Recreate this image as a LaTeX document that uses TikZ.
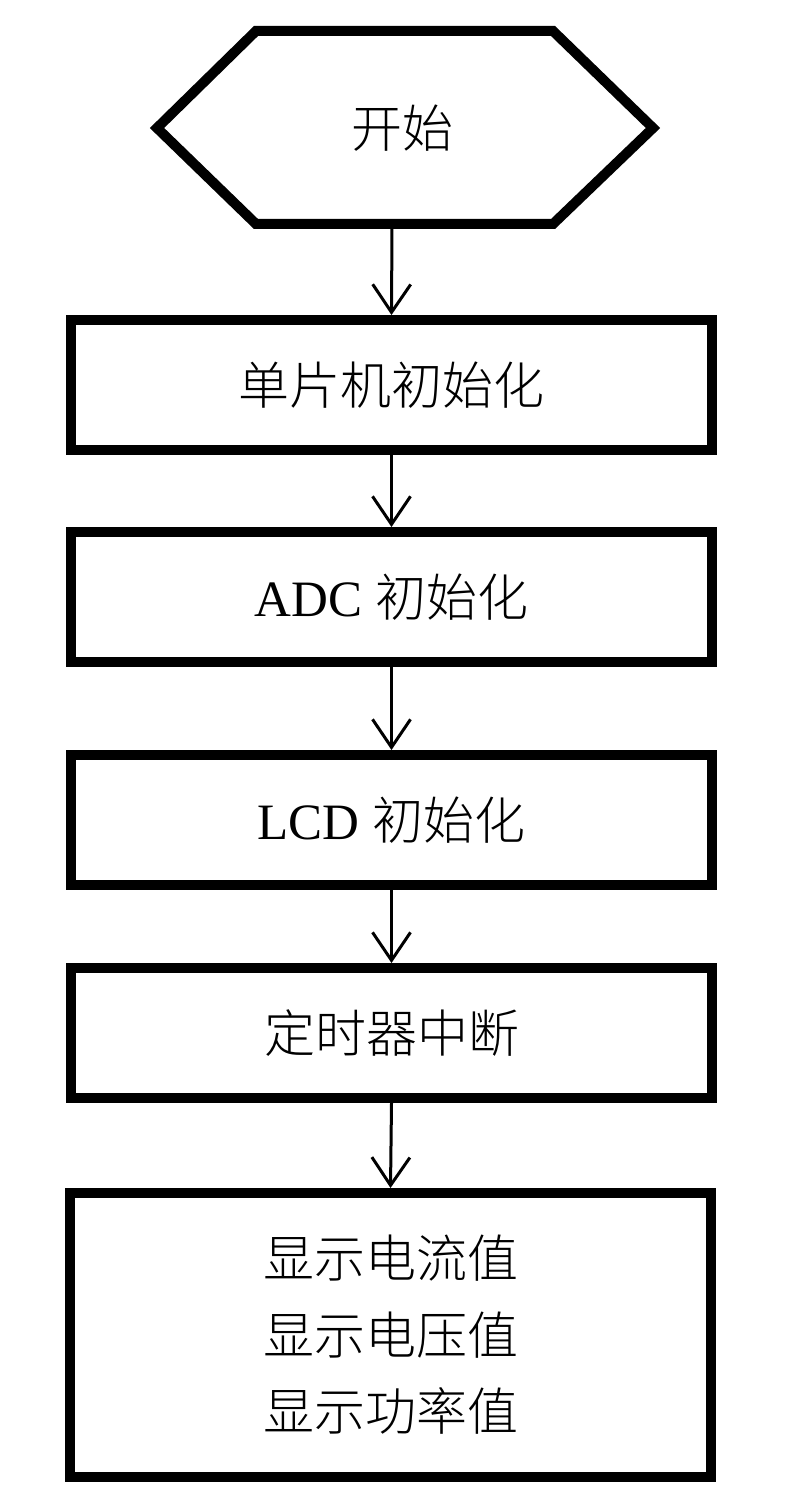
\documentclass[tikz,border=0pt]{standalone}
\usepackage{fontspec}
\setmainfont{Liberation Serif}
\newfontfamily\cjk{Noto Sans CJK SC Light}
\usetikzlibrary{arrows.meta}
\tikzset{
  stepbox/.style={draw, line width=10pt, minimum width=641pt, minimum height=130pt, inner sep=0pt, align=center},
  hexline/.style={draw, line width=10pt, line join=miter},
  flow/.style={line width=3pt, -{Straight Barb[length=28pt, width=38pt]}},
  txt/.style={font=\fontsize{51pt}{76.5pt}\selectfont}
}
\begin{document}
\begin{tikzpicture}[x=1pt, y=-1pt, txt]
\useasboundingbox (0,0) rectangle (800,1506);
\draw[hexline] (157,128) -- (256,31) -- (553,31) -- (653,128) -- (553,224) -- (256,224) -- cycle;
\node (start) at (402,128) {\cjk 开始};
\coordinate (hb) at (392,224);
\node[stepbox] (b1) at (391.5,385) {\cjk 单片机初始化};
\node[stepbox] (b2) at (391.5,597) {ADC {\cjk 初始化}};
\node[stepbox] (b3) at (391.5,820) {LCD {\cjk 初始化}};
\node[stepbox] (b4) at (391.5,1033) {\cjk 定时器中断};
\node[stepbox, minimum height=284pt] (b5) at (390.5,1335) {\cjk 显示电流值\\\cjk 显示电压值\\\cjk 显示功率值};
\draw[flow] (hb) -- (b1.north);
\draw[flow] (b1.south) -- (b2.north);
\draw[flow] (b2.south) -- (b3.north);
\draw[flow] (b3.south) -- (b4.north);
\draw[flow] (b4.south) -- (b5.north);
\end{tikzpicture}
\end{document}
